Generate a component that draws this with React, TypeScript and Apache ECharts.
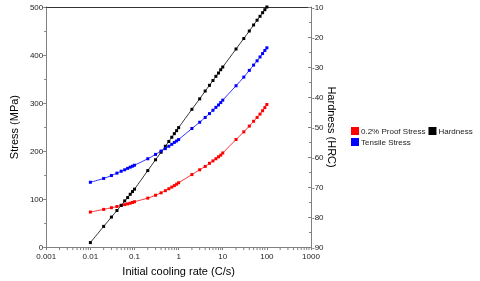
import React, { useEffect, useRef } from "react";
import * as echarts from "echarts";

const coolingRates = [
  0.01, 0.02, 0.03, 0.04, 0.05, 0.06, 0.07, 0.08, 0.09,
  0.1, 0.2, 0.3, 0.4, 0.5, 0.6, 0.7, 0.8, 0.9,
  1, 2, 3, 4, 5, 6, 7, 8, 9,
  10, 20, 30, 40, 50, 60, 70, 80, 90,
  100,
];

const proofStress = [
  73, 78.5, 82, 84.5, 87, 88.5, 90, 91.5, 93,
  94.5, 102, 108, 113, 117.5, 121.5, 125, 128, 131,
  134, 151, 161, 168, 174.5, 179.5, 184, 188, 191.5,
  196, 224, 240, 252, 262, 270, 277, 284, 290.5,
  297,
];

const tensileStress = [
  135, 143, 149, 154, 158, 161, 164, 166.5, 168.5,
  170.5, 184, 193, 200, 205, 210, 214, 218, 221,
  224, 247, 260, 270, 278, 285, 291, 296, 301,
  306, 336, 354, 368, 379, 388, 396, 403, 409.5,
  415,
];

const hardness = [
  -88.5, -83.1, -80.0, -77.8, -76.1, -74.6, -73.5, -72.4, -71.5,
  -70.7, -64.5, -60.9, -58.4, -56.4, -54.8, -53.4, -52.2, -51.2,
  -50.2, -44.1, -40.6, -38.0, -36.1, -34.5, -33.1, -32.0, -30.9,
  -30.0, -24.0, -20.5, -18.0, -16.0, -14.4, -13.1, -11.9, -10.9,
  -10,
];

const xTickLabels = ["0.001", "0.01", "0.1", "1", "10", "100", "1000"];
const xMinorTicks = [
  0.002, 0.003, 0.004, 0.005, 0.006, 0.007, 0.008, 0.009,
  0.02, 0.03, 0.04, 0.05, 0.06, 0.07, 0.08, 0.09,
  0.2, 0.3, 0.4, 0.5, 0.6, 0.7, 0.8, 0.9,
  2, 3, 4, 5, 6, 7, 8, 9,
  20, 30, 40, 50, 60, 70, 80, 90,
  200, 300, 400, 500, 600, 700, 800, 900,
];

const seriesNames = ["0.2% Proof Stress", "Hardness", "Tensile Stress"];

const FONT = "'Liberation Sans', Arial, sans-serif";
const AXIS_GRAY = "#808080";

export default function App() {
  const ref = useRef<HTMLDivElement>(null);

  useEffect(() => {
    if (!ref.current) return;
    document.body.style.margin = "0";
    const chart = echarts.init(ref.current, undefined, { renderer: "svg" });
    const pair = (ys: number[]) => coolingRates.map((x, i) => [x, ys[i]]);

    chart.setOption({
      animation: false,
      textStyle: { fontFamily: FONT },
      grid: { left: 40, right: 169, top: 7, bottom: 29, containLabel: false },
      legend: {
        data: seriesNames,
        left: 351,
        top: 127,
        width: 128,
        padding: 0,
        itemGap: 3,
        itemWidth: 8,
        itemHeight: 8,
        icon: "rect",
        textStyle: { fontSize: 8, color: "#222", fontFamily: FONT, padding: [0, 0, 0, -3] },
      },
      xAxis: [
        {
          type: "log",
          logBase: 10,
          min: 0.001,
          max: 1000,
          name: "Initial cooling rate (C/s)",
          nameLocation: "middle",
          nameGap: 16,
          nameTextStyle: { fontSize: 11, color: "#000", fontFamily: FONT },
          axisLine: { lineStyle: { color: AXIS_GRAY } },
          axisTick: { show: true, length: 3, lineStyle: { color: AXIS_GRAY } },
          axisLabel: {
            fontSize: 8,
            color: "#222",
            margin: 5,
            formatter: (_v: number, i: number) => xTickLabels[i] ?? "",
          },
          splitLine: { show: false },
        },
        {
          type: "log",
          logBase: 10,
          min: 0.001,
          max: 1000,
          position: "top",
          axisLine: { show: true, lineStyle: { color: "#333" } },
          axisTick: { show: false },
          axisLabel: { show: false },
          splitLine: { show: false },
        },
      ],
      yAxis: [
        {
          type: "value",
          min: 0,
          max: 500,
          interval: 100,
          name: "Stress (MPa)",
          nameLocation: "middle",
          nameGap: 18,
          nameTextStyle: { fontSize: 11, color: "#000", fontFamily: FONT },
          axisLine: { show: true, lineStyle: { color: AXIS_GRAY } },
          axisTick: { show: true, length: 3, lineStyle: { color: AXIS_GRAY } },
          minorTick: { show: true, splitNumber: 2, length: 2, lineStyle: { color: AXIS_GRAY } },
          axisLabel: { fontSize: 8, color: "#222", margin: 3 },
          splitLine: { show: false },
        },
        {
          type: "value",
          min: -90,
          max: -10,
          interval: 10,
          position: "right",
          name: "Hardness (HRC)",
          nameLocation: "middle",
          nameRotate: -90,
          nameGap: 15,
          nameMoveOverlap: false,
          nameTextStyle: { fontSize: 11, color: "#000", fontFamily: FONT },
          axisLine: { show: true, lineStyle: { color: AXIS_GRAY } },
          axisTick: { show: true, inside: true, length: 3, lineStyle: { color: AXIS_GRAY } },
          minorTick: { show: true, splitNumber: 2, length: 2, lineStyle: { color: AXIS_GRAY } },
          axisLabel: { fontSize: 8, color: "#222", margin: 1 },
          splitLine: { show: false },
        },
      ],
      series: [
        {
          name: "0.2% Proof Stress",
          type: "line",
          xAxisIndex: 0,
          yAxisIndex: 0,
          data: pair(proofStress),
          symbol: "rect",
          symbolSize: 3,
          smooth: 0.3,
          itemStyle: { color: "#ff0000" },
          lineStyle: { color: "#ff0000", width: 0.8 },
        },
        {
          name: "Hardness",
          type: "line",
          xAxisIndex: 0,
          yAxisIndex: 1,
          data: pair(hardness),
          symbol: "rect",
          symbolSize: 3,
          smooth: 0.3,
          itemStyle: { color: "#000000" },
          lineStyle: { color: "#000000", width: 0.8 },
        },
        {
          name: "Tensile Stress",
          type: "line",
          xAxisIndex: 0,
          yAxisIndex: 0,
          data: pair(tensileStress),
          symbol: "rect",
          symbolSize: 3,
          smooth: 0.3,
          itemStyle: { color: "#0000ff" },
          lineStyle: { color: "#0000ff", width: 0.8 },
        },
        {
          name: "minorTicks",
          type: "custom",
          xAxisIndex: 0,
          yAxisIndex: 0,
          silent: true,
          clip: false,
          data: xMinorTicks.map((x) => [x, 0]),
          renderItem: (_params: any, api: any) => {
            const p = api.coord([api.value(0), 0]);
            return {
              type: "line",
              shape: { x1: p[0], y1: p[1], x2: p[0], y2: p[1] + 3 },
              style: { stroke: AXIS_GRAY, lineWidth: 1 },
            };
          },
        },
      ],
    });

    return () => chart.dispose();
  }, []);

  return (
    <div
      ref={ref}
      style={{ position: "fixed", left: 0, top: 0, width: 480, height: 281 }}
    />
  );
}
